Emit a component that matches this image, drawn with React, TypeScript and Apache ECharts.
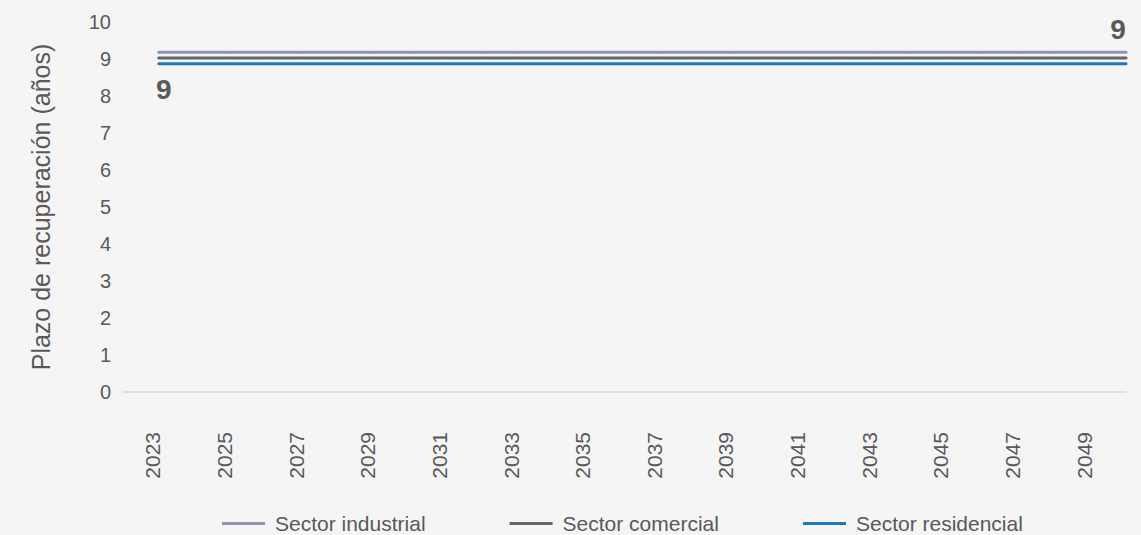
import React, { useEffect, useRef } from "react";
import * as echarts from "echarts";

const years = [
  "2022", "2023", "2024", "2025", "2026", "2027", "2028", "2029", "2030", "2031",
  "2032", "2033", "2034", "2035", "2036", "2037", "2038", "2039", "2040", "2041",
  "2042", "2043", "2044", "2045", "2046", "2047", "2048", "2049", "2050",
];

const industrial = [
  null, 9.18, 9.18, 9.18, 9.18, 9.18, 9.18, 9.18, 9.18, 9.18,
  9.18, 9.18, 9.18, 9.18, 9.18, 9.18, 9.18, 9.18, 9.18, 9.18,
  9.18, 9.18, 9.18, 9.18, 9.18, 9.18, 9.18, 9.18, 9.18,
];
const comercial = [
  null, 9.03, 9.03, 9.03, 9.03, 9.03, 9.03, 9.03, 9.03, 9.03,
  9.03, 9.03, 9.03, 9.03, 9.03, 9.03, 9.03, 9.03, 9.03, 9.03,
  9.03, 9.03, 9.03, 9.03, 9.03, 9.03, 9.03, 9.03, 9.03,
];
const residencial = [
  null, 8.87, 8.87, 8.87, 8.87, 8.87, 8.87, 8.87, 8.87, 8.87,
  8.87, 8.87, 8.87, 8.87, 8.87, 8.87, 8.87, 8.87, 8.87, 8.87,
  8.87, 8.87, 8.87, 8.87, 8.87, 8.87, 8.87, 8.87, 8.87,
];

const seriesNames = ["Sector industrial", "Sector comercial", "Sector residencial"];
const seriesColors = ["#8E94AE", "#666666", "#1F77BE"];

const FONT = "'Liberation Sans', Arial, Helvetica, sans-serif";
const TEXT = "#595959";

export default function App() {
  const ref = useRef<HTMLDivElement>(null);

  useEffect(() => {
    if (!ref.current) return;
    const chart = echarts.init(ref.current, undefined, { renderer: "svg" });

    const labelStyle = {
      fontFamily: FONT,
      fontSize: 28,
      fontWeight: "bold" as const,
      color: TEXT,
    };

    const lastIdx = years.length - 1;

    const industrialData = industrial.map((v, i) =>
      i === lastIdx
        ? {
            value: v,
            label: { show: true, position: "top", distance: 5, offset: [-8, -3], formatter: (p: any) => Math.round(p.value).toString(), ...labelStyle },
          }
        : v
    );
    const residencialData = residencial.map((v, i) =>
      i === 1
        ? {
            value: v,
            label: { show: true, position: "bottom", distance: 5, offset: [5, 6], formatter: (p: any) => Math.round(p.value).toString(), ...labelStyle },
          }
        : v
    );

    const mkSeries = (name: string, color: string, data: any[]) => ({
      name,
      type: "line",
      data,
      symbol: "circle",
      symbolSize: 2,
      showSymbol: true,
      itemStyle: { color },
      lineStyle: { color, width: 3, cap: "round" },
      label: { show: false },
      emphasis: { disabled: true },
      z: 3,
    });

    chart.setOption({
      animation: false,
      backgroundColor: "#F5F5F5",
      textStyle: { fontFamily: FONT, color: TEXT },
      grid: { left: 123, right: 15, top: 22, bottom: 143, containLabel: false },
      legend: {
        data: seriesNames.map((n) => ({ name: n, icon: "rect" })),
        left: 217,
        top: 508,
        itemWidth: 43,
        itemHeight: 3,
        itemGap: 84,
        textStyle: { fontFamily: FONT, fontSize: 21, color: TEXT, padding: [0, 0, 0, 5] },
      },
      xAxis: {
        type: "category",
        data: years,
        boundaryGap: false,
        axisLine: { show: true, lineStyle: { color: "#D9D9D9", width: 1.5 } },
        axisTick: { show: false },
        splitLine: { show: false },
        axisLabel: {
          rotate: 90,
          interval: (index: number) => index % 2 === 1,
          margin: 40,
          fontFamily: FONT,
          fontSize: 21,
          color: TEXT,
          verticalAlign: "bottom",
          lineHeight: 12,
        },
      },
      yAxis: {
        type: "value",
        min: 0,
        max: 10,
        interval: 1,
        name: "Plazo de recuperación (años)",
        nameLocation: "middle",
        nameGap: 70,
        nameTextStyle: { fontFamily: FONT, fontSize: 25, color: TEXT },
        axisLine: { show: false },
        axisTick: { show: false },
        splitLine: { show: false },
        axisLabel: { margin: 12, fontFamily: FONT, fontSize: 20, color: TEXT },
      },
      series: [
        mkSeries(seriesNames[0], seriesColors[0], industrialData),
        mkSeries(seriesNames[1], seriesColors[1], comercial),
        mkSeries(seriesNames[2], seriesColors[2], residencialData),
      ],
    });

    return () => chart.dispose();
  }, []);

  return (
    <div
      ref={ref}
      style={{ position: "fixed", left: 0, top: 0, width: 1141, height: 535, background: "#F5F5F5" }}
    />
  );
}
